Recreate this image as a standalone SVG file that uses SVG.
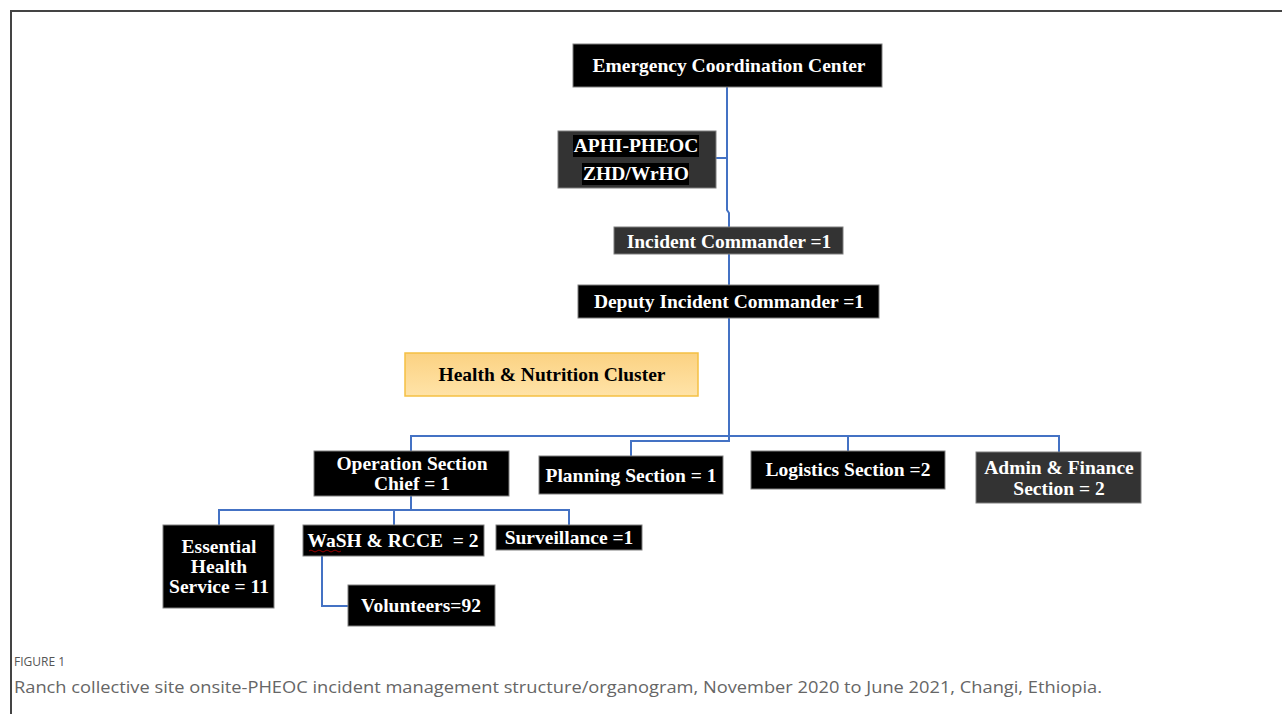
<svg xmlns="http://www.w3.org/2000/svg" width="1282" height="714" viewBox="0 0 1282 714">
<style>
.b{fill:#000;stroke:#7f7f7f;stroke-width:1}
.g{fill:#333;stroke:#7f7f7f;stroke-width:1}
.t{font-family:"Liberation Serif","Times New Roman",serif;font-weight:bold;font-size:19.5px;fill:#fff;text-anchor:middle}
.k{fill:#000}
.c{fill:none;stroke:#4472c4;stroke-width:2}
.cap{font-family:"Open Sans","Liberation Sans",sans-serif}
</style>
<defs>
<linearGradient id="og" x1="0" y1="0" x2="0" y2="1">
<stop offset="0" stop-color="#fbd282"/>
<stop offset="1" stop-color="#ffe3a8"/>
</linearGradient>
</defs>
<rect width="1282" height="714" fill="#fff"/>
<path d="M11 714 V11 H1282" fill="none" stroke="#444" stroke-width="2"/>
<g id="connectors">
<path class="c" d="M727 87 V210 L729 213 V227"/>
<path class="c" d="M716 158 H727"/>
<path class="c" d="M729 254 V285"/>
<path class="c" d="M729 318 V441 H631 V456"/>
<path class="c" d="M729 436 H411 V451"/>
<path class="c" d="M729 436 H1059 V452"/>
<path class="c" d="M848 436 V451"/>
<path class="c" d="M411 496 V510 H219 V525"/>
<path class="c" d="M394 510 V525"/>
<path class="c" d="M411 510 H569 V525"/>
<path class="c" d="M322 556 V606 H348"/>
</g>
<g id="ecc"><rect class="b" x="573" y="44" width="309" height="43"/><text class="t" x="729" y="72">Emergency Coordination Center</text></g>
<g id="aphi"><rect class="g" x="558" y="131" width="158" height="57" stroke-width="2"/>
<rect class="k" x="573" y="135" width="126" height="22"/><rect class="k" x="582" y="163" width="107" height="22"/>
<text class="t" x="636" y="152">APHI-PHEOC</text><text class="t" x="636" y="180">ZHD/WrHO</text></g>
<g id="ic"><rect class="g" x="614" y="227" width="229" height="27"/><text class="t" x="729" y="248">Incident Commander =1</text></g>
<g id="dic"><rect class="b" x="578" y="285" width="301" height="33"/><text class="t" x="729" y="308">Deputy Incident Commander =1</text></g>
<g id="hnc"><rect x="405" y="353" width="293" height="43" fill="url(#og)" stroke="#f5c043" stroke-width="1.5"/><text class="t" x="552" y="381" style="fill:#000">Health &amp; Nutrition Cluster</text></g>
<g id="ops"><rect class="b" x="314" y="451" width="195" height="45"/><text class="t" x="412" y="470">Operation Section</text><text class="t" x="412" y="490">Chief = 1</text></g>
<g id="plan"><rect class="b" x="539" y="456" width="184" height="38"/><text class="t" x="631" y="482">Planning Section = 1</text></g>
<g id="log"><rect class="b" x="751" y="451" width="194" height="38"/><text class="t" x="848" y="476">Logistics Section =2</text></g>
<g id="adm"><rect class="g" x="976" y="452" width="165" height="51"/><text class="t" x="1059" y="474">Admin &amp; Finance</text><text class="t" x="1059" y="495">Section = 2</text></g>
<g id="ehs"><rect class="b" x="163" y="525" width="111" height="83"/><text class="t" x="219" y="553">Essential</text><text class="t" x="219" y="573">Health</text><text class="t" x="219" y="593">Service = 11</text></g>
<g id="wash"><rect class="b" x="303" y="525" width="181" height="31"/><text class="t" x="393" y="547" xml:space="preserve">WaSH &amp; RCCE  = 2</text><path d="M309 551 q2 -2 4 0 t4 0 t4 0 t4 0 t4 0 t4 0 t4 0 t4 0" fill="none" stroke="#c00000" stroke-width="0.8"/></g>
<g id="surv"><rect class="b" x="496" y="525" width="146" height="25"/><text class="t" x="569" y="544">Surveillance =1</text></g>
<g id="vol"><rect class="b" x="348" y="585" width="147" height="41"/><text class="t" x="421" y="612">Volunteers=92</text></g>
<text class="cap" x="14" y="666" font-size="12" fill="#555">FIGURE 1</text>
<text class="cap" x="14" y="693" font-size="17" fill="#666" textLength="1088" lengthAdjust="spacingAndGlyphs">Ranch collective site onsite-PHEOC incident management structure/organogram, November 2020 to June 2021, Changi, Ethiopia.</text>
</svg>
